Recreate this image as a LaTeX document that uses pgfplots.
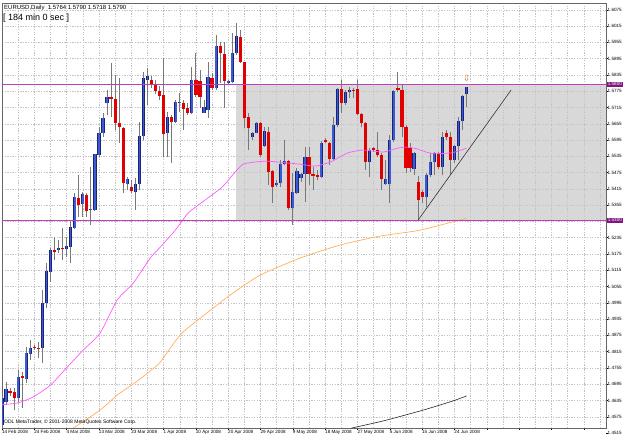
\documentclass[border=0pt]{standalone}
\usepackage{fontspec}
\setmainfont{Liberation Sans}
\newfontfamily\symfont{DejaVu Sans}
\usepackage{pgfplots}
\usepackage{pgfplotstable}
\pgfplotsset{compat=1.18}
\definecolor{bullfill}{RGB}{60,90,210}
\definecolor{bulledge}{RGB}{25,35,120}
\definecolor{bearfill}{RGB}{225,0,0}
\definecolor{wick}{RGB}{120,120,120}
\definecolor{gridc}{RGB}{195,195,195}
\definecolor{rectc}{RGB}{216,216,216}
\definecolor{lvl}{RGB}{190,60,190}
\definecolor{lvlbox}{RGB}{130,20,130}
\definecolor{maone}{RGB}{255,90,255}
\definecolor{matwo}{RGB}{255,175,90}
\definecolor{arrowc}{RGB}{190,120,60}

\pgfplotstableread{
i o h l c
0 1.4545 1.4652 1.4523 1.4644
1 1.4630 1.4703 1.4619 1.4678
4 1.4644 1.4748 1.4630 1.4722
6 1.4714 1.4832 1.4700 1.4810
7 1.4806 1.4858 1.4784 1.4829
10 1.4829 1.5042 1.4773 1.4994
11 1.4994 1.5142 1.4976 1.5112
12 1.5109 1.5197 1.5072 1.5190
14 1.5190 1.5226 1.5179 1.5197
16 1.5193 1.5238 1.5164 1.5204
17 1.5201 1.5298 1.5142 1.5274
18 1.5271 1.5400 1.5267 1.5385
20 1.5359 1.5403 1.5311 1.5396
22 1.5337 1.5495 1.5282 1.5340
23 1.5337 1.5545 1.5333 1.5543
24 1.5540 1.5643 1.5532 1.5621
25 1.5621 1.5694 1.5606 1.5676
26 1.5731 1.5779 1.5687 1.5753
31 1.5433 1.5459 1.5411 1.5451
33 1.5403 1.5455 1.5337 1.5433
34 1.5433 1.5661 1.5411 1.5610
35 1.5610 1.5845 1.5595 1.5823
36 1.5816 1.5860 1.5724 1.5831
41 1.5621 1.5698 1.5532 1.5680
43 1.5661 1.5742 1.5657 1.5735
44 1.5731 1.5768 1.5698 1.5735
47 1.5694 1.5864 1.5692 1.5816
50 1.5694 1.5742 1.5694 1.5716
51 1.5705 1.5882 1.5676 1.5827
53 1.5786 1.5982 1.5779 1.5941
56 1.5805 1.5816 1.5797 1.5812
57 1.5809 1.5989 1.5805 1.5915
58 1.5915 1.6026 1.5908 1.5978
62 1.5606 1.5624 1.5595 1.5621
63 1.5621 1.5661 1.5620 1.5657
65 1.5573 1.5643 1.5569 1.5628
68 1.5429 1.5447 1.5422 1.5436
69 1.5436 1.5521 1.5422 1.5506
70 1.5506 1.5595 1.5503 1.5517
72 1.5344 1.5473 1.5282 1.5403
73 1.5400 1.5492 1.5396 1.5481
74 1.5455 1.5473 1.5440 1.5470
75 1.5470 1.5569 1.5366 1.5532
79 1.5459 1.5591 1.5455 1.5584
82 1.5525 1.5680 1.5521 1.5650
83 1.5650 1.5786 1.5643 1.5783
85 1.5731 1.5779 1.5724 1.5772
86 1.5772 1.5790 1.5750 1.5779
91 1.5514 1.5565 1.5459 1.5558
95 1.5433 1.5521 1.5429 1.5451
96 1.5433 1.5613 1.5363 1.5595
97 1.5595 1.5779 1.5588 1.5775
102 1.5488 1.5551 1.5466 1.5547
105 1.5385 1.5473 1.5348 1.5466
106 1.5466 1.5547 1.5459 1.5514
107 1.5514 1.5551 1.5466 1.5547
109 1.5495 1.5624 1.5466 1.5606
112 1.5521 1.5576 1.5510 1.5573
113 1.5573 1.5680 1.5521 1.5665
114 1.5665 1.5761 1.5632 1.5757
115 1.5764 1.5790 1.5718 1.5790
}\bull

\pgfplotstableread{
i o h l c
2 1.4670 1.4681 1.4652 1.4663
3 1.4667 1.4681 1.4600 1.4644
5 1.4725 1.4740 1.4608 1.4718
8 1.4832 1.4840 1.4821 1.4827
9 1.4830 1.4851 1.4792 1.4827
13 1.5190 1.5238 1.5153 1.5182
15 1.5197 1.5271 1.5153 1.5192
19 1.5381 1.5466 1.5311 1.5355
21 1.5392 1.5400 1.5311 1.5333
27 1.5753 1.5879 1.5680 1.5746
28 1.5746 1.5834 1.5632 1.5657
29 1.5657 1.5823 1.5584 1.5643
30 1.5639 1.5643 1.5400 1.5436
32 1.5422 1.5447 1.5400 1.5407
37 1.5816 1.5831 1.5786 1.5797
38 1.5801 1.5816 1.5764 1.5775
39 1.5775 1.5794 1.5742 1.5757
40 1.5761 1.5897 1.5532 1.5617
42 1.5680 1.5687 1.5510 1.5661
45 1.5731 1.5742 1.5632 1.5709
46 1.5713 1.5731 1.5687 1.5694
48 1.5816 1.5915 1.5753 1.5761
49 1.5812 1.5853 1.5713 1.5753
52 1.5823 1.5842 1.5779 1.5786
54 1.5941 1.5956 1.5805 1.5915
55 1.5912 1.5956 1.5713 1.5812
59 1.5974 1.6000 1.5879 1.5882
60 1.5882 1.5884 1.5639 1.5676
61 1.5680 1.5694 1.5558 1.5639
64 1.5657 1.5661 1.5532 1.5540
66 1.5624 1.5643 1.5429 1.5477
67 1.5481 1.5484 1.5363 1.5422
71 1.5517 1.5521 1.5337 1.5344
76 1.5532 1.5569 1.5429 1.5470
77 1.5470 1.5495 1.5411 1.5462
78 1.5466 1.5484 1.5447 1.5459
80 1.5595 1.5602 1.5584 1.5588
81 1.5584 1.5588 1.5503 1.5525
84 1.5783 1.5816 1.5694 1.5731
87 1.5779 1.5786 1.5750 1.5776
88 1.5783 1.5816 1.5687 1.5691
89 1.5691 1.5694 1.5643 1.5657
90 1.5657 1.5661 1.5484 1.5514
92 1.5565 1.5569 1.5551 1.5558
93 1.5558 1.5624 1.5532 1.5540
94 1.5540 1.5547 1.5411 1.5451
98 1.5786 1.5845 1.5772 1.5779
99 1.5779 1.5797 1.5606 1.5643
100 1.5643 1.5650 1.5473 1.5492
101 1.5565 1.5584 1.5477 1.5492
103 1.5440 1.5462 1.5300 1.5374
104 1.5403 1.5411 1.5363 1.5385
108 1.5547 1.5551 1.5488 1.5495
110 1.5621 1.5632 1.5595 1.5606
111 1.5606 1.5624 1.5466 1.5521
}\bear

\pgfplotstableread{
i p
-0.5 1.4619
3.8 1.4626
7.7 1.4648
12.0 1.4692
16.2 1.4759
20.1 1.4821
24.3 1.4884
28.5 1.5005
32.5 1.5068
36.7 1.5160
39.2 1.5201
42.9 1.5263
46.1 1.5326
50.3 1.5374
54.5 1.5422
57.7 1.5477
59.7 1.5506
62.7 1.5514
65.9 1.5517
70.9 1.5510
73.8 1.5506
77.5 1.5499
81.3 1.5514
85.5 1.5547
89.4 1.5558
94.4 1.5551
97.9 1.5565
100.3 1.5569
102.8 1.5562
106.0 1.5547
111.0 1.5547
115.0 1.5565
}\maA

\pgfplotstableread{
i p
15.0 1.4518
16.9 1.4527
24.3 1.4600
28.5 1.4655
32.5 1.4696
36.7 1.4744
39.2 1.4777
44.1 1.4877
49.1 1.4939
56.5 1.5024
63.9 1.5097
73.8 1.5160
83.7 1.5208
93.6 1.5241
103.5 1.5263
115.0 1.5307
}\maB

\pgfplotstableread{
i p
85.0 1.4525
86.7 1.4534
94.4 1.4560
104.3 1.4600
111.5 1.4633
115.0 1.4652
}\maC

\begin{document}
\begin{tikzpicture}
\begin{axis}[
  scale only axis,
  width=604pt, height=425pt,
  xmin=0, xmax=149.5, ymin=1.45338, ymax=1.6100,
  set layers,
  axis line style={draw=black!60, line width=0.6pt},
  xtick={0,8,...,112},
  xticklabels={14 Feb 2008,24 Feb 2008,4 Mar 2008,13 Mar 2008,23 Mar 2008,1 Apr 2008,10 Apr 2008,20 Apr 2008,29 Apr 2008,9 May 2008,18 May 2008,27 May 2008,5 Jun 2008,15 Jun 2008,24 Jun 2008},
  minor xtick={4,12,...,148},
  extra x ticks={120,128,136,144}, extra x tick labels={},
  xtick pos=bottom, ytick pos=right, yticklabel pos=right,
  tick align=outside, major tick length=2pt, minor tick length=0pt,
  tick style={black, line width=0.5pt},
  xticklabel style={anchor=north west, xshift=-1.2pt, yshift=1pt, font=\fontsize{4.6}{5}\selectfont, inner sep=1pt},
  yticklabel style={anchor=west, xshift=-1.5pt, font=\fontsize{4.6}{5}\selectfont, inner sep=1pt},
  ytick={1.4575,1.4635,1.4695,1.4755,1.4815,1.4875,1.4935,1.4995,1.5055,1.5115,1.5175,1.5235,1.5295,1.5355,1.5415,1.5475,1.5535,1.5595,1.5655,1.5715,1.5775,1.5835,1.5895,1.5955,1.6015,1.6075},
  yticklabels={1.4575,1.4635,1.4695,1.4755,1.4815,1.4875,1.4935,1.4995,1.5055,1.5115,1.5175,1.5235,,1.5355,1.5415,1.5475,1.5535,1.5595,1.5655,1.5715,1.5775,1.5835,1.5895,1.5955,1.6015,1.6075},
  grid=both,
  major grid style={gridc, dash pattern=on 1.3pt off 1.3pt, line width=0.5pt},
  minor grid style={gridc, dash pattern=on 1.3pt off 1.3pt, line width=0.5pt},
]
% background rectangle
\addplot[on layer=axis background, fill=rectc, draw=none] coordinates {(58,1.5300) (149.5,1.5300) (149.5,1.5800) (58,1.5800)} -- cycle;
% wicks
\addplot[draw=none, error bars/.cd, y dir=plus, y explicit, error mark=none,
  error bar style={draw=wick, line width=0.9pt}]
  table[x=i, y=l, y error plus expr=\thisrow{h}-\thisrow{l}] {\bull};
\addplot[draw=none, error bars/.cd, y dir=plus, y explicit, error mark=none,
  error bar style={draw=wick, line width=0.9pt}]
  table[x=i, y=l, y error plus expr=\thisrow{h}-\thisrow{l}] {\bear};
% bodies
\addplot[draw=none, error bars/.cd, y dir=plus, y explicit, error mark=none,
  error bar style={draw=bulledge, line width=3.2pt}]
  table[x=i, y=o, y error plus expr=\thisrow{c}-\thisrow{o}] {\bull};
\addplot[draw=none, error bars/.cd, y dir=plus, y explicit, error mark=none,
  error bar style={draw=bullfill, line width=1.6pt}]
  table[x=i, y=o, y error plus expr=\thisrow{c}-\thisrow{o}] {\bull};
\addplot[draw=none, error bars/.cd, y dir=plus, y explicit, error mark=none,
  error bar style={draw=bearfill, line width=3.2pt}]
  table[x=i, y=c, y error plus expr=\thisrow{o}-\thisrow{c}] {\bear};
% moving averages
\addplot[maone, line width=0.7pt, smooth, tension=0.4] table[x=i, y=p] {\maA};
\addplot[matwo, line width=0.7pt, smooth, tension=0.4] table[x=i, y=p] {\maB};
\addplot[black!85, line width=0.6pt, smooth, tension=0.4] table[x=i, y=p] {\maC};
% levels
\addplot[lvl, line width=0.8pt] coordinates {(0,1.5800) (149.5,1.5800)};
\addplot[lvl, line width=0.8pt] coordinates {(0,1.5300) (149.5,1.5300)};
% trend line
\addplot[black!80, line width=0.6pt] coordinates {(103,1.5300) (126,1.5779)};
% alert arrow
\addplot[draw=none, point meta=y, nodes near coords={\symfont ⇩}, nodes near coords align={center},
  every node near coord/.append style={text=arrowc, font=\fontsize{8.5}{8.5}\selectfont}] coordinates {(115,1.5820)};
\coordinate (lvA) at (axis cs:149.5,1.5800);
\coordinate (lvB) at (axis cs:149.5,1.5300);
\coordinate (lastT) at (axis cs:149.5,1.4515);
\end{axis}
\node[anchor=west, fill=lvlbox, text=white, inner sep=0.8pt, font=\fontsize{4.6}{5}\selectfont] at ([xshift=0.8pt]lvA) {1.5800};
\node[anchor=west, fill=lvlbox, text=white, inner sep=0.8pt, font=\fontsize{4.6}{5}\selectfont] at ([xshift=0.8pt]lvB) {1.5300};
\draw[black, line width=0.5pt] (lastT) -- ++(2pt,0);
\node[anchor=west, inner sep=1pt, font=\fontsize{4.6}{5}\selectfont] at ([xshift=0.5pt]lastT) {1.4515};
\node[anchor=west, inner sep=0pt, font=\fontsize{6}{7}\selectfont] at (2pt,420.5pt) {EURUSD,Daily\ \ 1.5764 1.5790 1.5718 1.5790};
\node[anchor=west, inner sep=0pt, font=\fontsize{9}{10}\selectfont] at (1pt,409.5pt) {[ 184 min 0 sec ]};
\node[anchor=west, inner sep=0pt, font=\fontsize{5}{6}\selectfont] at (2pt,6pt) {ODL MetaTrader, © 2001-2008 MetaQuotes Software Corp.};
\pgfresetboundingbox
\path[use as bounding box] (-2pt,-17pt) rectangle (623pt,428pt);
\end{tikzpicture}
\end{document}
